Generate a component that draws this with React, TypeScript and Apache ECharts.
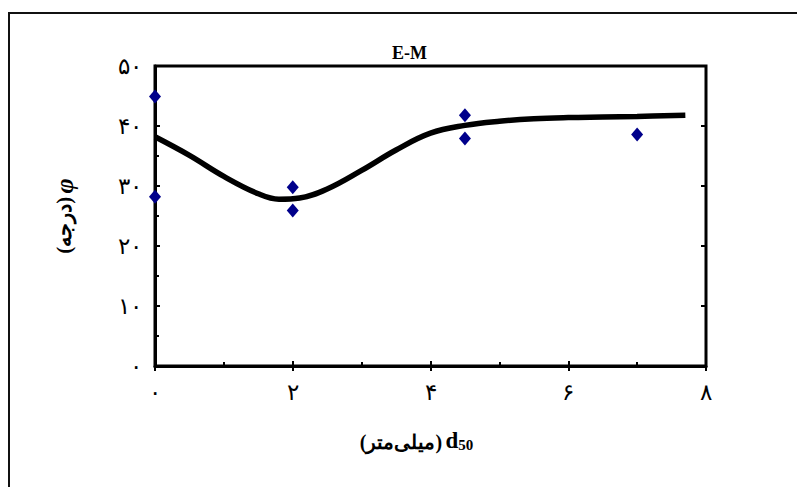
import React, { useEffect, useRef } from 'react';
import * as echarts from 'echarts';

// Measured points (diamonds)
const scatterX = [0, 0, 2, 2, 4.5, 4.5, 7];
const scatterY = [44.9, 28.2, 29.8, 25.9, 41.8, 37.9, 38.6];

// Fitted curve
const curveX = [0, 0.5, 1, 1.5, 1.8, 2.1, 2.5, 3, 3.5, 4, 4.5, 5, 5.5, 6, 6.5, 7, 7.7];
const curveY = [38.2, 35.1, 31.6, 28.7, 27.8, 28.0, 29.5, 32.6, 36.0, 38.8, 40.1, 40.8, 41.2, 41.4, 41.5, 41.6, 41.8];

const xTickLabels = ['۰', '۲', '۴', '۶', '۸'];
const yTickLabels = ['۰', '۱۰', '۲۰', '۳۰', '۴۰', '۵۰'];

const titleText = 'E-M';
const xUnit = '(میلی\u200cمتر)';
const yUnit = '(درجه)';

const SERIF = '"Times New Roman", "Liberation Serif", "DejaVu Serif", serif';

export default function App() {
  const ref = useRef<HTMLDivElement>(null);
  useEffect(() => {
    if (!ref.current) return;
    const chart = echarts.init(ref.current, null, { renderer: 'svg' });
    const gridH = 300;
    const gridW = 551;
    const tickStyle = { color: '#000', width: 2 };
    chart.setOption({
      animation: false,
      backgroundColor: '#fff',
      title: {
        text: titleText,
        left: 387,
        top: 39,
        textStyle: { fontFamily: SERIF, fontWeight: 'bold', fontSize: 18, color: '#000' },
      },
      graphic: [
        {
          type: 'rect',
          z: -10,
          shape: { x: 9, y: 13, width: 800, height: 500 },
          style: { fill: 'none', stroke: '#111', lineWidth: 2 },
        },
      ],
      grid: {
        left: 155,
        right: 91,
        top: 66,
        bottom: 121,
        show: true,
        borderColor: '#000',
        borderWidth: 3,
        backgroundColor: 'transparent',
        containLabel: false,
        outerBoundsMode: 'none',
      },
      xAxis: [
        {
          type: 'value',
          position: 'bottom',
          min: 0,
          max: 8,
          interval: 2,
          axisLine: { lineStyle: { color: '#000', width: 3 } },
          axisTick: { inside: true, length: 5, lineStyle: tickStyle },
          minorTick: { show: true, splitNumber: 2, length: 4, lineStyle: tickStyle },
          splitLine: { show: false },
          axisLabel: {
            formatter: (v: number) => xTickLabels[Math.round(v / 2)] ?? '',
            fontSize: 23,
            color: '#000',
            margin: 15,
            fontFamily: SERIF,
          },
          name: '{a|' + xUnit + '} {b|d}{c|50}',
          nameLocation: 'middle',
          nameGap: 62,
          nameTextStyle: {
            padding: [0, 28, 0, 0],
            rich: {
              a: { fontFamily: SERIF, fontWeight: 'bold', fontSize: 20, color: '#000', lineHeight: 24, verticalAlign: 'bottom' },
              b: { fontFamily: SERIF, fontWeight: 'bold', fontSize: 23, color: '#000', lineHeight: 24, verticalAlign: 'bottom' },
              c: { fontFamily: SERIF, fontWeight: 'bold', fontSize: 15, color: '#000', lineHeight: 14, verticalAlign: 'bottom' },
            },
          },
        },
        {
          type: 'value',
          position: 'top',
          offset: -gridH,
          min: 0,
          max: 8,
          interval: 2,
          axisLine: { show: false },
          axisTick: { inside: true, length: 5, lineStyle: tickStyle },
          axisLabel: { show: false },
          splitLine: { show: false },
        },
      ],
      yAxis: [
        {
          type: 'value',
          position: 'left',
          min: 0,
          max: 50,
          interval: 10,
          axisLine: { lineStyle: { color: '#000', width: 3 } },
          axisTick: { inside: true, length: 5, lineStyle: tickStyle },
          minorTick: { show: true, splitNumber: 2, length: 4, lineStyle: tickStyle },
          splitLine: { show: false },
          axisLabel: {
            formatter: (v: number) => yTickLabels[Math.round(v / 10)] ?? '',
            fontSize: 23,
            color: '#000',
            margin: 13,
            fontFamily: SERIF,
          },
          name: '{a|' + yUnit + '} {b|φ}',
          nameLocation: 'middle',
          nameRotate: 90,
          nameGap: 78,
          nameTextStyle: {
            rich: {
              a: { fontFamily: SERIF, fontWeight: 'bold', fontSize: 21, color: '#000' },
              b: { fontFamily: SERIF, fontWeight: 'bold', fontStyle: 'italic', fontSize: 26, color: '#000' },
            },
          },
        },
        {
          type: 'value',
          position: 'right',
          offset: -gridW,
          min: 0,
          max: 50,
          interval: 10,
          axisLine: { show: false },
          axisTick: { inside: true, length: 5, lineStyle: tickStyle },
          axisLabel: { show: false },
          splitLine: { show: false },
        },
      ],
      series: [
        {
          type: 'line',
          xAxisIndex: 0,
          yAxisIndex: 0,
          data: curveX.map((x, i) => [x, curveY[i]]),
          smooth: 0.4,
          symbol: 'none',
          showSymbol: false,
          lineStyle: { color: '#000', width: 5.5 },
          z: 2,
        },
        {
          type: 'scatter',
          xAxisIndex: 0,
          yAxisIndex: 0,
          data: scatterX.map((x, i) => [x, scatterY[i]]),
          symbol: 'diamond',
          symbolSize: [12, 14],
          itemStyle: { color: '#00008B', opacity: 1 },
          clip: false,
          z: 3,
        },
      ],
    });
    return () => chart.dispose();
  }, []);
  return (
    <div
      ref={ref}
      style={{ position: 'absolute', left: 0, top: 0, width: 797, height: 487 }}
    />
  );
}
